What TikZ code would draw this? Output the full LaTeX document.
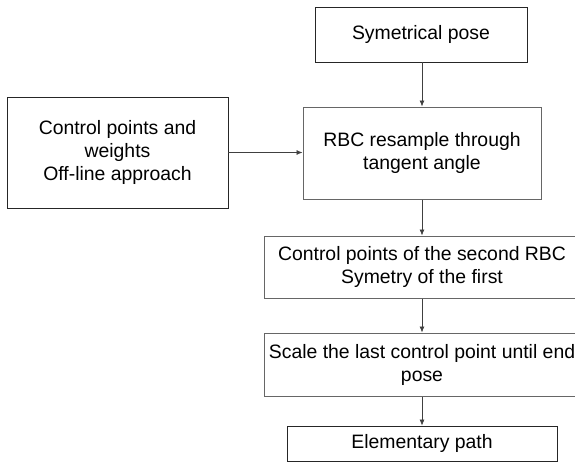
\documentclass[tikz,border=0pt]{standalone}
\usepackage{fontspec}
\setmainfont{Liberation Sans}
\usepackage{tikz}
\usetikzlibrary{arrows.meta, positioning, calc}

\begin{document}
\begin{tikzpicture}[x=1pt, y=-1pt,
        every node/.style={font=\fontsize{19.4}{23}\selectfont, align=center},
        box/.style={draw=black!85, line width=0.8pt, inner sep=2pt},
        gbox/.style={draw=black!60, line width=1pt, inner sep=2pt},
        arr/.style={-{Latex[length=6pt, width=5pt]}, line width=0.7pt, draw=black!75}
    ]
    \useasboundingbox (0,0) rectangle (575,464);

    % Top row
    \node[box, minimum width=212pt, minimum height=55pt] (pose) at (421, 34.5) {Symetrical pose};
    \node[box, minimum width=221pt, minimum height=111pt] (cpw) at (117.5, 152.5) {Control points and\\weights\\Off-line approach};
    \node[gbox, minimum width=238pt, minimum height=92pt] (rbc) at (422, 153) {RBC resample through\\tangent angle};

    % Lower chain
    \node[gbox, minimum width=316pt, minimum height=62pt] (sec) at (422, 267) {Control points of the second RBC\\Symetry of the first};
    \node[gbox, minimum width=316pt, minimum height=63pt] (last) at (422, 364.5) {Scale the last control point until end\\pose};
    \node[box, minimum width=270pt, minimum height=35pt] (epath) at (422, 443.5) {Elementary path};

    % Arrows
    \draw[arr] (pose.south -| rbc.north) -- (rbc.north);
    \draw[arr] (cpw.east) -- (cpw.east -| rbc.west);
    \draw[arr] (rbc) -- (sec);
    \draw[arr] (sec) -- (last);
    \draw[arr] (last) -- (epath);
\end{tikzpicture}
\end{document}
